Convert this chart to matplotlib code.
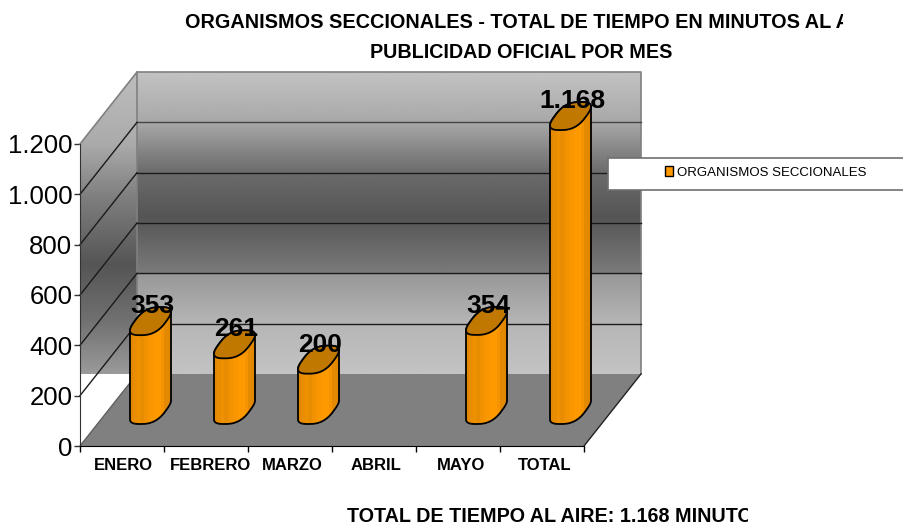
import numpy as np
import matplotlib
matplotlib.use("Agg")
import matplotlib.pyplot as plt
from matplotlib.patches import Polygon, Rectangle, Patch
from matplotlib.ticker import FuncFormatter, MultipleLocator, FixedLocator, NullFormatter
from matplotlib.transforms import Bbox, ScaledTranslation

plt.rcParams['font.family'] = ['Liberation Sans', 'DejaVu Sans']

# ---- data
categories = ["ENERO", "FEBRERO", "MARZO", "ABRIL", "MAYO", "TOTAL"]
values = [353, 261, 200, None, 354, 1168]
series_name = "ORGANISMOS SECCIONALES"
title_line1 = "ORGANISMOS SECCIONALES - TOTAL DE TIEMPO EN MINUTOS AL A"
title_line2 = "PUBLICIDAD OFICIAL POR MES"
footer = "TOTAL DE TIEMPO AL AIRE: 1.168 MINUTO"
y_max = 1200

# ---- layout (pixels of the 904x524 canvas)
W, H = 904, 524
X0, X1, Y0, Y1 = 80, 584, 446, 144
fig = plt.figure(figsize=(W / 100, H / 100), dpi=100, facecolor="white")
ax = fig.add_axes([X0 / W, 1 - Y0 / H, (X1 - X0) / W, (Y0 - Y1) / H])
ax.set_xlim(0, len(categories))
ax.set_ylim(0, y_max)
ux = (X1 - X0) / len(categories)      # px per category
uy = (Y0 - Y1) / y_max                # px per value
DX = 57 / ux                          # oblique depth, in data units
DY = 72 / uy


def px_y(v):
    return Y0 - v * uy


def gradient(x0, x1, v0, v1, stops_px, stops_gray, clip, z):
    vs = np.linspace(v1, v0, 400)
    g = np.interp(px_y(vs), stops_px, stops_gray)
    im = ax.imshow(g[:, None], extent=(x0, x1, v0, v1), cmap="gray", vmin=0, vmax=255,
                   aspect="auto", interpolation="bilinear", zorder=z)
    ax.set_xlim(0, len(categories))
    ax.set_ylim(0, y_max)
    patch = Polygon(clip, closed=True, transform=ax.transData, fill=False, edgecolor="none", clip_on=False)
    ax.add_patch(patch)
    im.set_clip_box(fig.bbox)
    im.set_clip_path(patch)
    return im


n = len(categories)
# back wall
gradient(DX, n + DX, DY, y_max + DY, [72, 123, 172, 217, 273, 275, 325, 375],
         [195, 168, 108, 85, 122, 152, 182, 195],
         [(DX, DY), (n + DX, DY), (n + DX, y_max + DY), (DX, y_max + DY)], 1)
# left wall
gradient(0, DX, DY, y_max + DY, [72, 145, 200, 265, 320, 375],
         [190, 170, 125, 85, 112, 155],
         [(0, 0), (DX, DY), (DX, y_max + DY), (0, y_max)], 1)
# white gap under the left wall gradient
ax.add_patch(Polygon([(0, 0), (DX, DY), (0, DY)], closed=True, facecolor="white",
                     edgecolor="none", zorder=1.2, clip_on=False))
# floor
ax.add_patch(Polygon([(0, 0), (n, 0), (n + DX, DY), (DX, DY)], closed=True,
                     facecolor="#808080", edgecolor="none", zorder=1.5, clip_on=False))
# wall outlines
for xs, ys in [([0, DX, n + DX, n + DX], [y_max, y_max + DY, y_max + DY, DY]),
               ([DX, DX], [DY, y_max + DY])]:
    ax.plot(xs, ys, color="#808080", lw=1.2, zorder=1.6, clip_on=False)
ax.plot([n, n + DX], [0, DY], color="#222222", lw=1.0, zorder=1.7, clip_on=False)
ax.plot([0, DX], [0, DY], color="#606060", lw=1.0, zorder=1.7, clip_on=False)
# gridlines
for v in range(200, y_max, 200):
    color = "#444444" if v == 1000 else "#1a1a1a"
    ax.plot([DX, n + DX], [v + DY, v + DY], color=color, lw=1.0, zorder=1.7, clip_on=False)
    ax.plot([0, DX], [v, v + DY], color="#1a1a1a", lw=1.0, zorder=1.7, clip_on=False)

# bars: cross section is a rounded parallelogram, as the faceted cylinders of the source
POWER = 0.72
tt = np.linspace(0, 2 * np.pi, 180, endpoint=False)
uc = np.sign(np.cos(tt)) * np.abs(np.cos(tt)) ** POWER
us = np.sign(np.sin(tt)) * np.abs(np.sin(tt)) ** POWER
sx = 14.0 * uc + 9.0 * us
sx = sx * (20.5 / sx.max()) / ux      # half width 20.5 px, in category units
sy = us * 14 / uy
i_right = int(np.argmax(sx))
i_left = int(np.argmin(sx))
half = sx.max()
bar_colors = [(226, 136, 4), (232, 140, 2), (238, 144, 0), (232, 140, 2), (240, 146, 0), (245, 148, 0),
              (250, 151, 0), (255, 153, 0), (255, 153, 0), (245, 148, 0), (228, 138, 2), (224, 135, 4)]


def ring_slice(start, end):
    idx = np.arange(start, end + 1 if end >= start else end + 1 + len(tt)) % len(tt)
    return idx


for i, v in enumerate(values):
    if v is None:
        continue
    cx, cy = i + 0.5 + DX / 2, DY / 2
    low = ring_slice(i_left, i_right)      # under side, left to right
    up = ring_slice(i_right, i_left)       # upper side, right to left
    body = np.vstack([np.column_stack([cx + sx[low], cy + sy[low]]),
                      np.column_stack([cx + sx[up], cy + v + sy[up]])])
    im = ax.imshow(np.array(bar_colors, dtype=np.uint8)[None, :, :],
                   extent=(cx - half, cx + half, cy - 14 / uy, cy + v + 14 / uy), aspect="auto",
                   interpolation="nearest", zorder=5)
    ax.set_xlim(0, n)
    ax.set_ylim(0, y_max)
    edge = Polygon(body, closed=True, fill=False, edgecolor="black", lw=1.3, zorder=5.2, clip_on=False)
    ax.add_patch(edge)
    im.set_clip_box(fig.bbox)
    im.set_clip_path(edge)
    ax.add_patch(Polygon(np.column_stack([cx + sx, cy + v + sy]), closed=True, facecolor="#C07800",
                         edgecolor="black", lw=1.3, zorder=5.4, clip_on=False))
    label = f"{v:,}".replace(",", ".")
    ax.text(cx + 1.5 / ux, cy + v + 15 / uy, label, ha="center", va="center", fontsize=19,
            fontweight="bold", color="black", zorder=6, clip_on=False)

# axes
for s in ("top", "right"):
    ax.spines[s].set_visible(False)
ax.spines["left"].set_color("#333333")
ax.spines["bottom"].set_color("black")
ax.patch.set_visible(False)
ax.yaxis.set_major_locator(MultipleLocator(200))
ax.yaxis.set_major_formatter(FuncFormatter(lambda v, _: f"{int(v):,}".replace(",", ".")))
ax.tick_params(axis="y", labelsize=18.5, length=4, pad=1.5, width=1, color="#333333")
ax.set_xticks(np.arange(n) + 0.5)
ax.set_xticklabels(categories, fontsize=12, fontweight="bold")
ax.xaxis.set_minor_locator(FixedLocator(np.arange(n + 1)))
ax.xaxis.set_minor_formatter(NullFormatter())
ax.tick_params(axis="x", which="major", length=0, pad=9)
ax.tick_params(axis="x", which="minor", length=4, width=1, color="black")
for lab, off in zip(ax.get_xticklabels(), [1, 5, 2, 2, 3, 3]):
    lab.set_transform(lab.get_transform() + ScaledTranslation(off / 100, 0, fig.dpi_scale_trans))

# titles, clipped as in the source picture
t1 = fig.text(185 / W, 1 - 22.5 / H, title_line1, ha="left", va="center", fontsize=14.3, fontweight="bold")
t1.set_clip_box(Bbox([[0, 0], [843, H]]))
t1.set_clip_on(True)
fig.text(521 / W, 1 - 52 / H, title_line2, ha="center", va="center", fontsize=14.2, fontweight="bold")
t3 = fig.text(347 / W, 1 - 516 / H, footer, ha="left", va="center", fontsize=14.2, fontweight="bold")
t3.set_clip_box(Bbox([[0, 0], [748, H]]))
t3.set_clip_on(True)

# legend box runs off the right edge
fig.add_artist(Rectangle((608 / W, 1 - 190 / H), 300 / W, 32 / H, transform=fig.transFigure,
                         facecolor="white", edgecolor="#707070", lw=1.2, zorder=8))
leg = fig.legend(handles=[Patch(facecolor="#FF9900", edgecolor="black", lw=1, label=series_name)],
                 loc="center left", bbox_to_anchor=(665 / W, 1 - 172.5 / H), frameon=False,
                 fontsize=9.5, handlelength=0.62, handleheight=0.7, handletextpad=0.32,
                 borderpad=0, borderaxespad=0)
leg.set_zorder(9)

fig.savefig("out.png", dpi=100)
